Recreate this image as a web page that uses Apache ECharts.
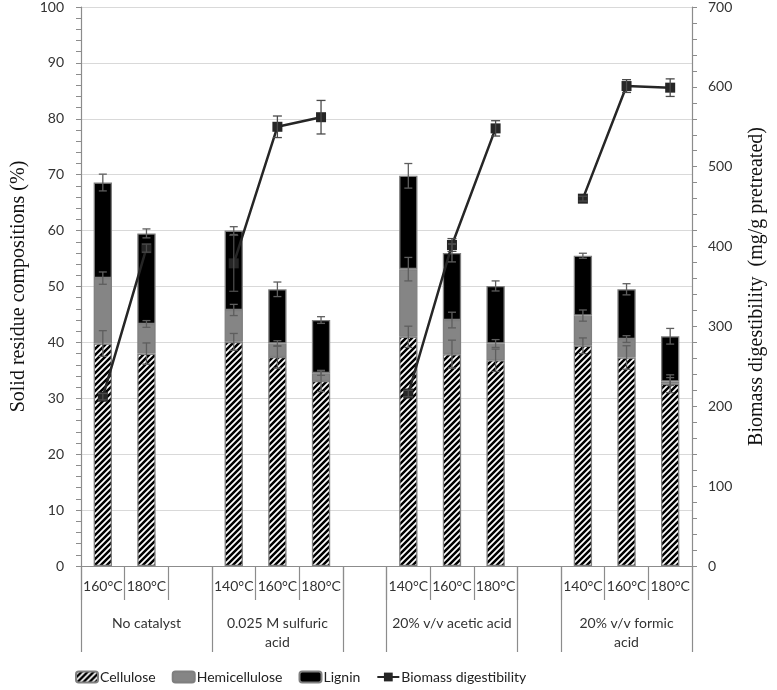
<!DOCTYPE html>
<html>
<head>
<meta charset="utf-8">
<script src="https://cdn.jsdelivr.net/npm/echarts@6/dist/echarts.min.js"></script>
<style>
html,body{margin:0;padding:0;background:#fff;}
#chart{width:777px;height:690px;}
</style>
</head>
<body>
<div id="chart"></div>
<script>
// ---- data ----
const categories = ['160°C','180°C','','140°C','160°C','180°C','','140°C','160°C','180°C','','140°C','160°C','180°C'];
const groupLabels = ['', 'No catalyst', '', '', '0.025 M sulfuric\nacid', '', '', '', '20% v/v acetic acid', '', '', '', '20% v/v formic\nacid', ''];
const groupStarts = [0, 3, 6, 7, 10, 11];
const cellulose     = [39.8, 38.0, '-', 40.1, 37.4, 33.1, '-', 41.0, 37.9, 36.8, '-', 39.4, 37.3, 32.6];
const hemicellulose = [11.7, 5.3, '-', 5.7, 2.4, 1.4, '-', 12.1, 6.1, 3.0, '-', 5.4, 3.3, 0.4];
const lignin        = [17.1, 16.2, '-', 14.2, 9.7, 9.5, '-', 16.7, 12.0, 10.3, '-', 10.7, 8.9, 8.1];
const celluloseErr  = [2.3, 1.9, '-', 1.5, 2.0, 1.9, '-', 1.9, 2.5, 2.0, '-', 1.4, 2.1, 1.6];
const hemiErr       = [1.1, 0.6, '-', 1.0, 0.5, 0.4, '-', 2.1, 1.4, 0.7, '-', 1.0, 0.6, 0.7];
const ligninErr     = [1.5, 0.8, '-', 0.7, 1.3, 0.6, '-', 2.2, 1.6, 0.9, '-', 0.45, 1.0, 1.4];
const digestibility = [212, 398, '-', 379, 550, 562, '-', 216, 402, 548, '-', 460, 601, 599];
const digestErr     = [4, 5, '-', 35, 13.5, 21, '-', 4, 8, 9.6, '-', 3, 8, 11];
const leftTicks = {min: 0, max: 100, interval: 10};
const rightTicks = {min: 0, max: 700, interval: 100};

// ---- hatch pattern ----
function makeHatch() {
  const s = 6;
  const c = document.createElement('canvas');
  c.width = s; c.height = s;
  const g = c.getContext('2d');
  g.fillStyle = '#fff'; g.fillRect(0, 0, s, s);
  g.strokeStyle = '#000'; g.lineWidth = 2.5;
  g.beginPath();
  g.moveTo(-s, 2 * s); g.lineTo(2 * s, -s);
  g.moveTo(-2 * s, 2 * s); g.lineTo(s, -s);
  g.moveTo(0, 2 * s); g.lineTo(3 * s, -s);
  g.stroke();
  return c;
}
const hatch = {image: makeHatch(), repeat: 'repeat'};

// error data
function errData(tops, errs) {
  const out = [];
  tops.forEach((t, i) => { if (t !== '-') out.push([i, t, errs[i]]); });
  return out;
}
const celTop = cellulose.map((v) => v);
const hemTop = cellulose.map((v, i) => v === '-' ? '-' : v + hemicellulose[i]);
const ligTop = cellulose.map((v, i) => v === '-' ? '-' : v + hemicellulose[i] + lignin[i]);
const barErr = errData(celTop, celluloseErr).concat(errData(hemTop, hemiErr), errData(ligTop, ligninErr));
const lineErr = errData(digestibility, digestErr);

function errRender(color, hw, lw) {
  return function (params, api) {
    const x = api.value(0), y = api.value(1), e = api.value(2);
    const hi = api.coord([x, y + e]), lo = api.coord([x, y - e]);
    const st = {stroke: color, lineWidth: lw};
    return {type: 'group', children: [
      {type: 'line', shape: {x1: hi[0], y1: hi[1], x2: lo[0], y2: lo[1]}, style: st},
      {type: 'line', shape: {x1: hi[0] - hw, y1: hi[1], x2: hi[0] + hw, y2: hi[1]}, style: st},
      {type: 'line', shape: {x1: lo[0] - hw, y1: lo[1], x2: lo[0] + hw, y2: lo[1]}, style: st}
    ]};
  };
}

const axisGrey = '#8c8c8c';
const txt = '#333';
const font = 'Lato';
const barBorder = {borderColor: '#7f7f7f', borderWidth: 1.3};

const chart = echarts.init(document.getElementById('chart'), null, {renderer: 'canvas'});
chart.setOption({
  animation: false,
  backgroundColor: '#fff',
  grid: {left: 81, right: 85, top: 7, bottom: 124},
  legend: {
    left: 70, top: 665, itemWidth: 22, itemHeight: 11, itemGap: 16,
    textStyle: {fontFamily: font, fontSize: 14, color: '#222', padding: [0, 0, 0, -3]},
    data: ['Cellulose', 'Hemicellulose', 'Lignin', 'Biomass digestibility']
  },
  xAxis: [
    {
      type: 'category', data: categories, position: 'bottom',
      axisLine: {lineStyle: {color: axisGrey, width: 1.2}},
      axisTick: {show: true, interval: 0, length: 34, lineStyle: {color: axisGrey, width: 1.2}},
      axisLabel: {interval: 0, margin: 13, fontFamily: font, fontSize: 14, color: txt}
    },
    {
      type: 'category', data: groupLabels, position: 'bottom', gridIndex: 0,
      axisLine: {show: false},
      axisTick: {show: true, length: 86, lineStyle: {color: axisGrey, width: 1.2},
        interval: function (i) { return groupStarts.indexOf(i) >= 0; }},
      axisLabel: {interval: 0, margin: 48, fontFamily: font, fontSize: 14, color: txt, lineHeight: 19, verticalAlign: 'top'}
    }
  ],
  yAxis: [
    {
      type: 'value', min: leftTicks.min, max: leftTicks.max, interval: leftTicks.interval,
      name: 'Solid residue compositions (%)', nameLocation: 'middle', nameGap: 52,
      nameTextStyle: {fontFamily: 'Liberation Serif', fontSize: 20, color: '#111'},
      axisLine: {show: true, lineStyle: {color: axisGrey, width: 1.2}},
      axisTick: {show: true, length: 5, lineStyle: {color: axisGrey}},
      minorTick: {show: true, splitNumber: 5, length: 5, lineStyle: {color: axisGrey}},
      axisLabel: {margin: 17, fontFamily: font, fontSize: 14, color: txt},
      splitLine: {show: true, lineStyle: {color: '#d9d9d9', width: 1.2}}
    },
    {
      type: 'value', min: rightTicks.min, max: rightTicks.max, interval: rightTicks.interval, position: 'right',
      name: 'Biomass digestibility  (mg/g pretreated)', nameLocation: 'middle', nameGap: 55, nameRotate: 90,
      nameTextStyle: {fontFamily: 'Liberation Serif', fontSize: 20, color: '#111'},
      axisLine: {show: true, lineStyle: {color: axisGrey, width: 1.2}},
      axisTick: {show: true, length: 5, lineStyle: {color: axisGrey}},
      minorTick: {show: true, splitNumber: 5, length: 5, lineStyle: {color: axisGrey}},
      axisLabel: {margin: 16, fontFamily: font, fontSize: 14, color: txt},
      splitLine: {show: false}
    }
  ],
  series: [
    {name: 'Cellulose', type: 'bar', stack: 'a', barWidth: '42%', data: cellulose,
      itemStyle: Object.assign({color: hatch}, barBorder)},
    {name: 'Hemicellulose', type: 'bar', stack: 'a', barWidth: '42%', data: hemicellulose,
      itemStyle: Object.assign({color: '#858585'}, barBorder)},
    {name: 'Lignin', type: 'bar', stack: 'a', barWidth: '42%', data: lignin,
      itemStyle: Object.assign({color: '#000'}, barBorder)},
    {name: 'Biomass digestibility', type: 'line', yAxisIndex: 1, data: digestibility, connectNulls: false,
      symbol: 'rect', symbolSize: 10, z: 5,
      itemStyle: {color: '#262626'}, lineStyle: {color: '#262626', width: 2.5}},
    {name: 'barErr', type: 'custom', yAxisIndex: 0, data: barErr, z: 6,
      encode: {x: 0, y: 1}, renderItem: errRender('#5e5e5e', 4, 1.3)},
    {name: 'lineErr', type: 'custom', yAxisIndex: 1, data: lineErr, z: 6,
      encode: {x: 0, y: 1}, renderItem: errRender('#4a4a4a', 4.5, 1.3)}
  ]
});
</script>
</body>
</html>
